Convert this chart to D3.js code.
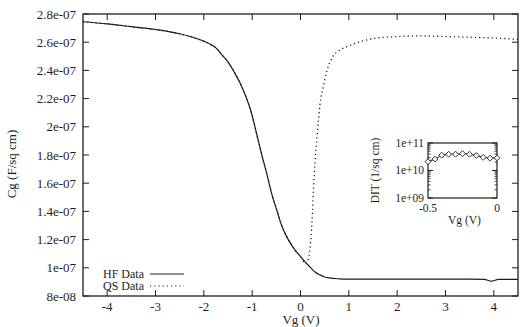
<!DOCTYPE html>
<html>
<head>
<meta charset="utf-8">
<script src="https://cdn.jsdelivr.net/npm/d3@7"></script>
<style>
  body { margin: 0; background: #fff; }
  text { font-family: "Liberation Serif", "DejaVu Serif", serif; fill: #1e1e1e; }
</style>
</head>
<body>
<svg id="chart" width="526" height="327"></svg>
<script>
// main C-V curves (Vg in volts, Cg in F/sq cm)
const vgHF = [-4.5, -4, -3.5, -3, -2.5, -2.25, -2, -1.875, -1.75, -1.625, -1.5, -1.375, -1.25, -1.0, -0.9, -0.8, -0.7, -0.6, -0.5, -0.4, -0.3, -0.2, -0.1, 0, 0.1, 0.2, 0.3, 0.4, 0.5, 0.6, 0.8, 1, 1.5, 2, 2.5, 3, 3.5, 3.8, 3.95, 4.1, 4.5];
const cgHF = [2.745e-7, 2.73e-7, 2.71e-7, 2.69e-7, 2.66e-7, 2.637e-7, 2.607e-7, 2.587e-7, 2.56e-7, 2.51e-7, 2.46e-7, 2.39e-7, 2.31e-7, 2.08e-7, 1.94e-7, 1.80e-7, 1.67e-7, 1.53e-7, 1.42e-7, 1.31e-7, 1.23e-7, 1.17e-7, 1.12e-7, 1.08e-7, 1.04e-7, 1.005e-7, 0.97e-7, 0.95e-7, 0.935e-7, 0.928e-7, 0.922e-7, 0.92e-7, 0.92e-7, 0.92e-7, 0.92e-7, 0.92e-7, 0.92e-7, 0.918e-7, 0.905e-7, 0.918e-7, 0.918e-7];

const vgQS = [-4.5, -4, -3.5, -3, -2.5, -2.25, -2, -1.875, -1.75, -1.625, -1.5, -1.375, -1.25, -1.0, -0.9, -0.8, -0.7, -0.6, -0.5, -0.4, -0.3, -0.2, -0.1, 0, 0.1, 0.15, 0.2, 0.24, 0.27, 0.3, 0.34, 0.37, 0.4, 0.47, 0.55, 0.67, 0.82, 1.0, 1.2, 1.5, 2, 2.5, 3, 3.5, 4, 4.5];
const cgQS = [2.745e-7, 2.73e-7, 2.71e-7, 2.69e-7, 2.66e-7, 2.637e-7, 2.607e-7, 2.587e-7, 2.56e-7, 2.51e-7, 2.46e-7, 2.39e-7, 2.31e-7, 2.08e-7, 1.94e-7, 1.80e-7, 1.67e-7, 1.53e-7, 1.42e-7, 1.31e-7, 1.23e-7, 1.17e-7, 1.12e-7, 1.08e-7, 1.03e-7, 1.05e-7, 1.15e-7, 1.34e-7, 1.57e-7, 1.74e-7, 1.92e-7, 2.04e-7, 2.15e-7, 2.28e-7, 2.40e-7, 2.50e-7, 2.545e-7, 2.575e-7, 2.60e-7, 2.625e-7, 2.64e-7, 2.645e-7, 2.64e-7, 2.635e-7, 2.63e-7, 2.62e-7];

const yTicks = [8e-8, 1e-7, 1.2e-7, 1.4e-7, 1.6e-7, 1.8e-7, 2e-7, 2.2e-7, 2.4e-7, 2.6e-7, 2.8e-7];
const yTickLabels = ["8e-08", "1e-07", "1.2e-07", "1.4e-07", "1.6e-07", "1.8e-07", "2e-07", "2.2e-07", "2.4e-07", "2.6e-07", "2.8e-07"];
const xTicks = [-4, -3, -2, -1, 0, 1, 2, 3, 4];

// inset: interface trap density
const vgDit = [-0.5, -0.45, -0.4, -0.35, -0.3, -0.25, -0.2, -0.15, -0.1, -0.05, 0];
const dit = [2.1e10, 2.6e10, 3.6e10, 3.9e10, 3.9e10, 4.1e10, 3.9e10, 3.5e10, 3.0e10, 2.8e10, 2.9e10];
const ditTicks = [1e9, 1e10, 1e11];
const ditTickLabels = ["1e+09", "1e+10", "1e+11"];
const insetXTicks = [-0.5, 0];

const svg = d3.select("#chart");

const mLeft = 83, mRight = 518, mTop = 14, mBottom = 296;

const x = d3.scaleLinear().domain([-4.5, 4.5]).range([mLeft, mRight]);
const y = d3.scaleLinear().domain([8e-8, 2.8e-7]).range([mBottom, mTop]);

const ink = "#1e1e1e";
const tick = 6;

// frame
svg.append("rect")
    .attr("x", mLeft).attr("y", mTop)
    .attr("width", mRight - mLeft).attr("height", mBottom - mTop)
    .attr("fill", "none").attr("stroke", ink).attr("stroke-width", 1.3);

// x ticks, bottom and top mirrored
const gx = svg.append("g");
xTicks.forEach(v => {
    gx.append("line").attr("x1", x(v)).attr("x2", x(v))
        .attr("y1", mBottom).attr("y2", mBottom - tick)
        .attr("stroke", ink).attr("stroke-width", 1);
    gx.append("line").attr("x1", x(v)).attr("x2", x(v))
        .attr("y1", mTop).attr("y2", mTop + tick)
        .attr("stroke", ink).attr("stroke-width", 1);
    gx.append("text")
        .attr("x", x(v)).attr("y", mBottom + 15)
        .attr("text-anchor", "middle")
        .style("font-size", "13px")
        .text(v);
});

// y ticks, left and right mirrored
const gy = svg.append("g");
yTicks.forEach((v, i) => {
    gy.append("line").attr("x1", mLeft).attr("x2", mLeft + tick)
        .attr("y1", y(v)).attr("y2", y(v))
        .attr("stroke", ink).attr("stroke-width", 1);
    gy.append("line").attr("x1", mRight).attr("x2", mRight - tick)
        .attr("y1", y(v)).attr("y2", y(v))
        .attr("stroke", ink).attr("stroke-width", 1);
    gy.append("text")
        .attr("x", mLeft - 7).attr("y", y(v))
        .attr("dy", "0.35em")
        .attr("text-anchor", "end")
        .style("font-size", "13px")
        .text(yTickLabels[i]);
});

// axis titles
svg.append("text")
    .attr("x", 301).attr("y", 323.5)
    .attr("text-anchor", "middle")
    .style("font-size", "13px")
    .text("Vg (V)");

svg.append("text")
    .attr("transform", "translate(16,164) rotate(-90)")
    .attr("text-anchor", "middle")
    .style("font-size", "13px")
    .text("Cg (F/sq cm)");

// curves
const line = d3.line()
    .x(d => x(d[0]))
    .y(d => y(d[1]))
    .curve(d3.curveMonotoneX);

svg.append("path")
    .attr("d", line(d3.zip(vgQS, cgQS)))
    .attr("fill", "none")
    .attr("stroke", ink)
    .attr("stroke-width", 1.3)
    .attr("stroke-dasharray", "1.2,3");

svg.append("path")
    .attr("d", line(d3.zip(vgHF, cgHF)))
    .attr("fill", "none")
    .attr("stroke", ink)
    .attr("stroke-width", 1.2);

// legend
const legend = svg.append("g");
[["HF Data", null], ["QS Data", "1.2,3"]].forEach((d, i) => {
    const ly = 274 + i * 12;
    legend.append("text")
        .attr("x", 144).attr("y", ly)
        .attr("dy", "0.33em")
        .attr("text-anchor", "end")
        .style("font-size", "12px")
        .text(d[0]);
    legend.append("line")
        .attr("x1", 150).attr("x2", 184)
        .attr("y1", ly).attr("y2", ly)
        .attr("stroke", ink).attr("stroke-width", 1.2)
        .attr("stroke-dasharray", d[1]);
});

// inset plot
const iLeft = 428, iRight = 497, iTop = 143, iBottom = 198;
const xi = d3.scaleLinear().domain([-0.5, 0]).range([iLeft, iRight]);
const yi = d3.scaleLog().domain([1e9, 1e11]).range([iBottom, iTop]);

const inset = svg.append("g");
inset.append("rect")
    .attr("x", iLeft).attr("y", iTop)
    .attr("width", iRight - iLeft).attr("height", iBottom - iTop)
    .attr("fill", "#fff").attr("stroke", ink).attr("stroke-width", 1.2);

// log minor ticks
const minor = [];
[1e9, 1e10].forEach(dec => {
    for (let k = 2; k <= 9; k++) minor.push(dec * k);
});
minor.forEach(v => {
    inset.append("line").attr("x1", iLeft).attr("x2", iLeft + 2.5)
        .attr("y1", yi(v)).attr("y2", yi(v)).attr("stroke", ink).attr("stroke-width", 0.8);
    inset.append("line").attr("x1", iRight).attr("x2", iRight - 2.5)
        .attr("y1", yi(v)).attr("y2", yi(v)).attr("stroke", ink).attr("stroke-width", 0.8);
});
ditTicks.forEach((v, i) => {
    inset.append("line").attr("x1", iLeft).attr("x2", iLeft + 5)
        .attr("y1", yi(v)).attr("y2", yi(v)).attr("stroke", ink).attr("stroke-width", 1);
    inset.append("line").attr("x1", iRight).attr("x2", iRight - 5)
        .attr("y1", yi(v)).attr("y2", yi(v)).attr("stroke", ink).attr("stroke-width", 1);
    inset.append("text")
        .attr("x", iLeft - 4).attr("y", yi(v))
        .attr("dy", "0.33em")
        .attr("text-anchor", "end")
        .style("font-size", "11.5px")
        .text(ditTickLabels[i]);
});
insetXTicks.forEach(v => {
    inset.append("text")
        .attr("x", xi(v)).attr("y", iBottom + 14)
        .attr("text-anchor", "middle")
        .style("font-size", "11.5px")
        .text(v);
});
inset.append("text")
    .attr("x", (iLeft + iRight) / 2 + 2).attr("y", iBottom + 26)
    .attr("text-anchor", "middle")
    .style("font-size", "11.5px")
    .text("Vg (V)");
inset.append("text")
    .attr("transform", `translate(379,${(iTop + iBottom) / 2}) rotate(-90)`)
    .attr("text-anchor", "middle")
    .style("font-size", "11.5px")
    .text("DIT (1/sq cm)");

const ditPts = d3.zip(vgDit, dit);
inset.append("path")
    .attr("d", d3.line().x(d => xi(d[0])).y(d => yi(d[1]))(ditPts))
    .attr("fill", "none").attr("stroke", ink).attr("stroke-width", 1);
inset.selectAll(".dia")
    .data(ditPts)
    .join("path")
    .attr("class", "dia")
    .attr("transform", d => `translate(${xi(d[0])},${yi(d[1])})`)
    .attr("d", d3.symbol(d3.symbolDiamond2, 22))
    .attr("fill", "#fff").attr("stroke", ink).attr("stroke-width", 0.9);
</script>
</body>
</html>
